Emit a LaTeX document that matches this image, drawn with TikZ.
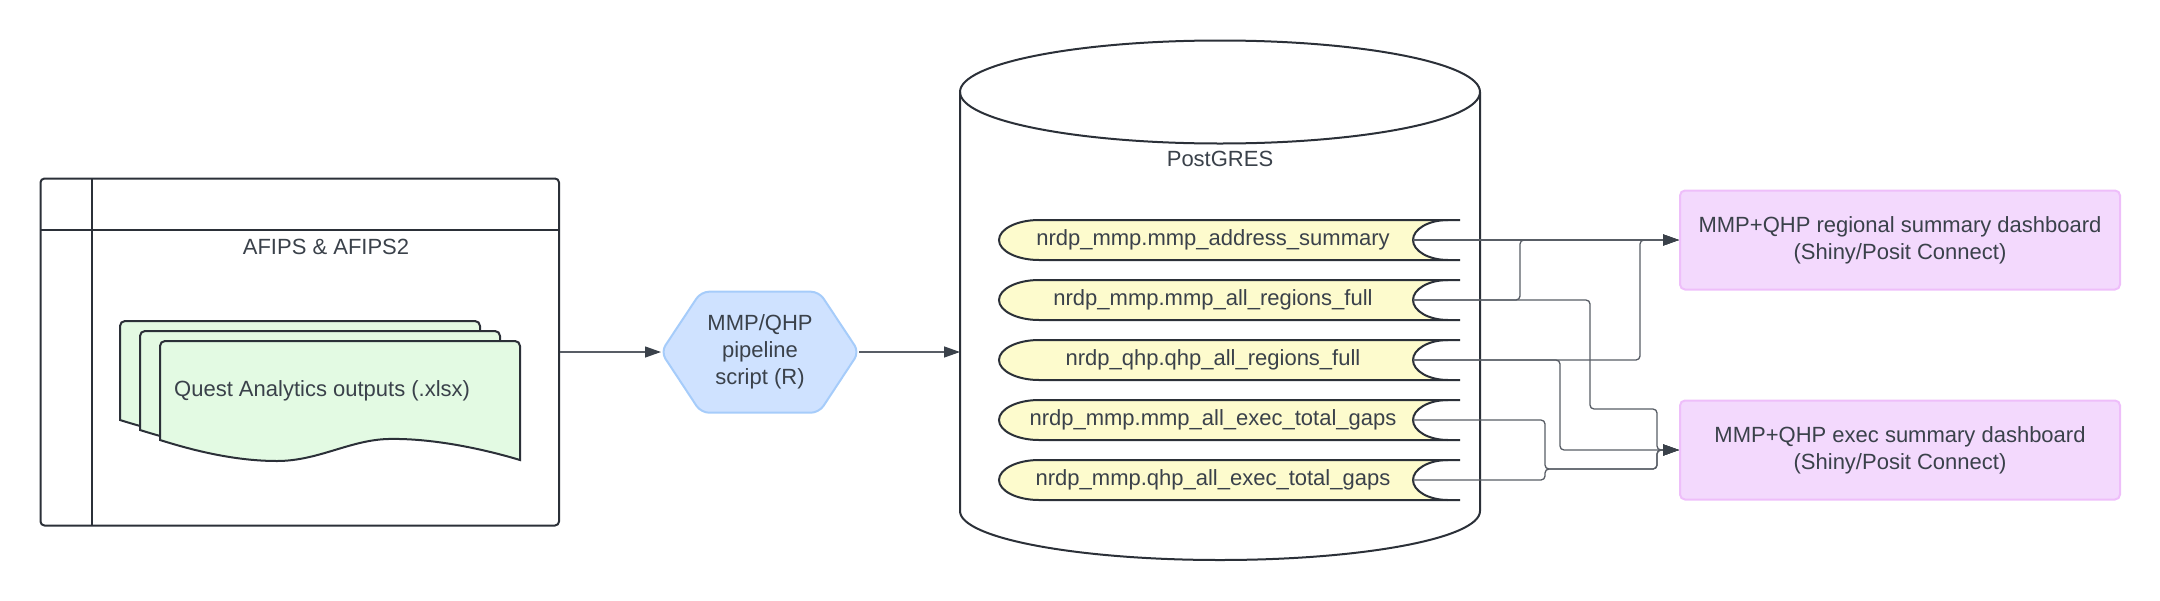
\documentclass[tikz,border=0pt]{standalone}
\usepackage{fontspec}
\setmainfont{Liberation Sans}
\usetikzlibrary{arrows.meta}
\definecolor{linecol}{RGB}{43,48,56}
\definecolor{textcol}{RGB}{58,65,74}
\definecolor{conncol}{RGB}{88,93,101}
\definecolor{arrowcol}{RGB}{58,65,74}
\definecolor{docfill}{RGB}{227,250,227}
\definecolor{hexfill}{RGB}{207,226,255}
\definecolor{hexdraw}{RGB}{166,204,250}
\definecolor{tabfill}{RGB}{253,251,205}
\definecolor{dashfill}{RGB}{243,217,253}
\definecolor{dashdraw}{RGB}{238,190,250}
\newcommand\docpagepath{(160,440) [rounded corners=5pt]-- (160,341) -- (520,341) [sharp corners]-- (520,460)
  .. controls (480,448) and (430,438) .. (388,439)
  .. controls (350,440) and (318,461) .. (277,461)
  .. controls (238,461) and (198,452) .. (160,440) -- cycle}
\begin{document}
\begin{tikzpicture}[x=1pt,y=-1pt,
  every node/.style={font=\fontsize{22}{27}\selectfont, text=textcol, inner sep=0pt},
  shapeline/.style={draw=linecol, line width=2pt},
  docst/.style={shapeline, fill=docfill},
  conn/.style={draw=conncol, line width=1.3pt, rounded corners=4pt,
    -{Triangle[length=16pt,width=11pt,color=arrowcol]}},
  dashbox/.style={draw=dashdraw, fill=dashfill, line width=2pt, rounded corners=5pt,
    minimum width=440pt, minimum height=99pt, align=center}]
\useasboundingbox (0,0) rectangle (2160,600);

% AFIPS container
\node[shapeline, rounded corners=4pt, minimum width=518.5pt, minimum height=347pt] (afips) at (299.75,352) {};
\draw[shapeline] (91.5,178.5) -- (91.5,525.5);
\draw[shapeline] (40.5,230) -- (559,230);
\node[anchor=base] (afipst) at (326,254) {AFIPS \& AFIPS2};

% stacked documents
\begin{scope}[shift={(-40,-20)}]
  \draw[docst] \docpagepath;
\end{scope}
\begin{scope}[shift={(-20,-10)}]
  \draw[docst] \docpagepath;
\end{scope}
\draw[docst] \docpagepath;
\node[anchor=base west] (qa) at (174,396) {Quest Analytics outputs (.xlsx)};

% hexagon
\draw[draw=hexdraw, fill=hexfill, line width=2pt, rounded corners=8pt]
  (760,291.7) -- (819,291.7) -- (859,352) -- (819,412.7) -- (701,412.7) -- (661,352) -- (701,291.7) -- cycle;
\coordinate (hexL) at (661,352);
\coordinate (hexR) at (859,352);
\node[align=center] (hex) at (760,351.5) {MMP/QHP\\pipeline\\script (R)};

% cylinder
\draw[shapeline, fill=white] (960,92) -- (960,511)
  .. controls (960,538) and (1076.4,560) .. (1220,560)
  .. controls (1363.6,560) and (1480,538) .. (1480,511) -- (1480,92);
\draw[shapeline] (1220,92) ellipse [x radius=260, y radius=51.5];
\coordinate (dbL) at (960,352);
\node[anchor=base] (pg) at (1220,166.5) {PostGRES};

% tables
\foreach \i/\c/\txt in {1/240/nrdp\_mmp.mmp\_address\_summary,
  2/300/nrdp\_mmp.mmp\_all\_regions\_full,
  3/360/nrdp\_qhp.qhp\_all\_regions\_full,
  4/420/nrdp\_mmp.mmp\_all\_exec\_total\_gaps,
  5/480/nrdp\_mmp.qhp\_all\_exec\_total\_gaps}{
  \fill[tabfill] (1039,\c-20) -- (1448,\c-20)
    .. controls (1428.7,\c-20) and (1413,\c-11) .. (1413,\c)
    .. controls (1413,\c+11) and (1428.7,\c+20) .. (1448,\c+20)
    -- (1039,\c+20)
    .. controls (1017,\c+20) and (999,\c+11) .. (999,\c)
    .. controls (999,\c-11) and (1017,\c-20) .. (1039,\c-20) -- cycle;
  \draw[shapeline] (1460,\c-20) -- (1039,\c-20)
    .. controls (1017,\c-20) and (999,\c-11) .. (999,\c)
    .. controls (999,\c+11) and (1017,\c+20) .. (1039,\c+20) -- (1460,\c+20);
  \draw[shapeline] (1448,\c-20)
    .. controls (1428.7,\c-20) and (1413,\c-11) .. (1413,\c)
    .. controls (1413,\c+11) and (1428.7,\c+20) .. (1448,\c+20);
  \node (t\i) at (1213,\c) {\txt};
  \coordinate (t\i o) at (1413,\c);
}

% dashboards
\node[dashbox] (d1) at (1900,240) {MMP+QHP regional summary dashboard\\(Shiny/Posit Connect)};
\node[dashbox] (d2) at (1900,450) {MMP+QHP exec summary dashboard\\(Shiny/Posit Connect)};

% connectors
\draw[conn] (afips.east) -- (hexL);
\draw[conn] (hexR) -- (dbL);
\draw[conn] (t1o) -- (d1.west);
\draw[conn] (t2o) -- ++(107,0) |- (d1.west);
\draw[conn] (t3o) -- ++(227,0) |- (d1.west);
\draw[conn] (t2o) -- ++(177,0) -- ++(0,109) -- ++(67,0) |- (d2.west);
\draw[conn] (t3o) -- ++(147,0) |- (d2.west);
\draw[conn] (t4o) -- ++(132,0) -- ++(0,49) -- ++(112,0) |- (d2.west);
\draw[conn] (t5o) -- ++(132,0) -- ++(0,-11) -- ++(112,0) |- (d2.west);
\end{tikzpicture}
\end{document}
